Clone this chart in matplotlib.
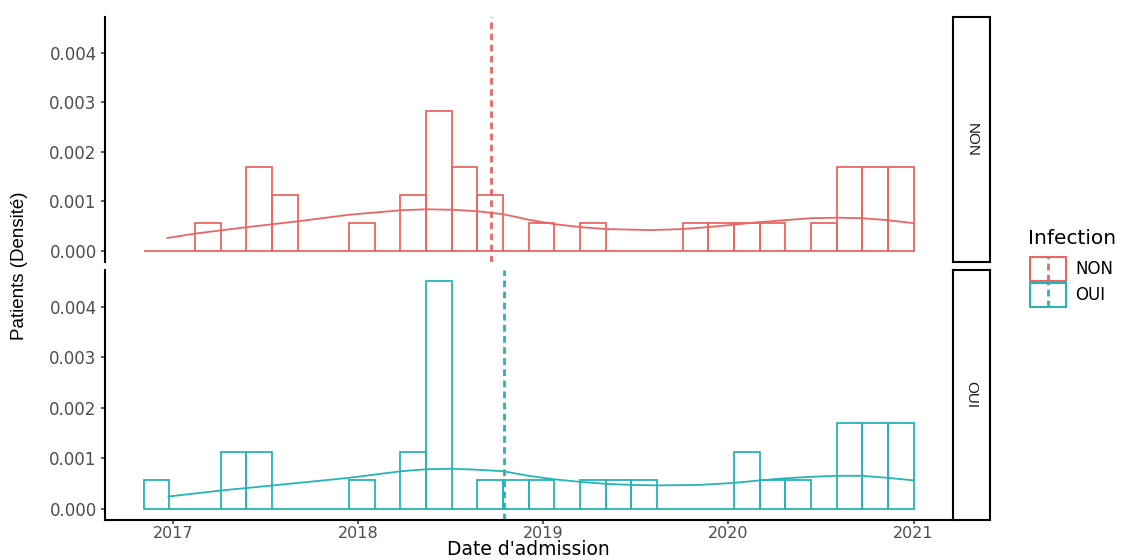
import numpy as np
import matplotlib
matplotlib.use("Agg")
import matplotlib.pyplot as plt
from matplotlib.patches import Rectangle

# histogram: 30 bins shared by both groups (years)
bin_start = 2016.838
bin_end = 2021.0
n_bins = 30

groups = ["NON", "OUI"]
colors = {"NON": "#E86763", "OUI": "#26B4B8"}

counts_non = [0, 0, 1, 0, 3, 2, 0, 0, 1, 0, 2, 5, 3, 2, 0,
              1, 0, 1, 0, 0, 0, 1, 1, 1, 1, 0, 1, 3, 3, 3]
counts_oui = [1, 0, 0, 2, 2, 0, 0, 0, 1, 0, 2, 8, 0, 1, 1,
              1, 0, 1, 1, 1, 0, 0, 0, 2, 1, 1, 0, 3, 3, 3]

# density curves (year, density)
dens_non_x = [2016.968, 2017.119, 2017.399, 2017.679, 2017.949, 2018.229, 2018.369,
              2018.509, 2018.644, 2018.784, 2018.919, 2019.059, 2019.199, 2019.340,
              2019.577, 2019.749, 2019.889, 2020.030, 2020.164, 2020.305, 2020.445,
              2020.585, 2020.725, 2020.860, 2021.000]
dens_non_y = [0.00026, 0.00035, 0.00048, 0.00060, 0.00073, 0.00082, 0.00084,
              0.00083, 0.00080, 0.00074, 0.00063, 0.00054, 0.00048, 0.00044,
              0.00042, 0.00044, 0.00048, 0.00053, 0.00058, 0.00062, 0.00066,
              0.00067, 0.00066, 0.00062, 0.00056]
dens_oui_x = [2016.973, 2017.259, 2017.399, 2017.539, 2017.949, 2018.229, 2018.369,
              2018.509, 2018.644, 2018.784, 2018.919, 2019.059, 2019.199, 2019.340,
              2019.480, 2019.615, 2019.846, 2020.030, 2020.170, 2020.305, 2020.445,
              2020.585, 2020.725, 2020.860, 2021.000]
dens_oui_y = [0.00024, 0.00036, 0.00041, 0.00046, 0.00061, 0.00074, 0.00078,
              0.00079, 0.00077, 0.00074, 0.00065, 0.00058, 0.00053, 0.00049,
              0.00047, 0.00046, 0.00047, 0.00051, 0.00056, 0.00060, 0.00063,
              0.00065, 0.00065, 0.00061, 0.00056]

mean_dates = {"NON": 2018.714, "OUI": 2018.784}

year_ticks = [2017, 2018, 2019, 2020, 2021]
y_ticks = [0.000, 0.001, 0.002, 0.003, 0.004]

counts = {"NON": counts_non, "OUI": counts_oui}
curves = {"NON": (dens_non_x, dens_non_y), "OUI": (dens_oui_x, dens_oui_y)}

H_FONT = "DejaVu Sans"
V_FONT = "Liberation Sans"

W, H = 1126, 560
fig = plt.figure(figsize=(W / 100, H / 100), dpi=100)
fig.patch.set_facecolor("white")

edges = np.linspace(bin_start, bin_end, n_bins + 1)
centers = (edges[:-1] + edges[1:]) / 2
bw = edges[1] - edges[0]
bw_days = bw * 365.25

panels = {"NON": (17, 262), "OUI": (270, 520)}
left_px, right_px = 105, 952
xlim = (bin_start - 0.05 * (bin_end - bin_start), bin_end + 0.05 * (bin_end - bin_start))
ylim = (-0.000225, 0.004725)

for g in groups:
    top, bot = panels[g]
    ax = fig.add_axes([left_px / W, 1 - bot / H, (right_px - left_px) / W, (bot - top) / H])
    c = colors[g]
    cnt = np.array(counts[g], dtype=float)
    heights = cnt / (cnt.sum() * bw_days)
    ax.bar(centers, heights, width=bw, fill=False, edgecolor=c, linewidth=1.3)
    ax.plot(curves[g][0], curves[g][1], color=c, linewidth=1.3)
    ax.axvline(mean_dates[g], color=c, linewidth=2.0, dashes=(2.4, 1.6))
    ax.set_xlim(*xlim)
    ax.set_ylim(*ylim)
    for s in ["top", "right"]:
        ax.spines[s].set_visible(False)
    ax.spines["left"].set_linewidth(1.5)
    ax.spines["bottom"].set_linewidth(1.5)
    ax.set_yticks(y_ticks)
    ax.set_yticklabels([f"{v:.3f}" for v in y_ticks], fontsize=12,
                       color="#4D4D4D", family=H_FONT)
    ax.tick_params(axis="both", length=3, width=1.1, color="#333333", pad=3)
    ax.tick_params(axis="x", pad=1.5)
    ax.set_xticks(year_ticks)
    if g == "NON":
        ax.spines["bottom"].set_visible(False)
        ax.tick_params(axis="x", bottom=False, labelbottom=False)
    else:
        ax.set_xticklabels([str(y) for y in year_ticks], fontsize=11.5,
                           color="#4D4D4D", family=H_FONT)

    # facet strip
    sax = fig.add_axes([953 / W, 1 - bot / H, 37 / W, (bot - top) / H])
    sax.set_xticks([])
    sax.set_yticks([])
    for s in sax.spines.values():
        s.set_linewidth(1.5)
        s.set_color("black")
    sax.text(0.5, 0.5, g, rotation=-90, ha="center", va="center",
             fontsize=11, color="#1A1A1A", family=V_FONT, transform=sax.transAxes)

fig.text(20 / W, 1 - 266 / H, "Patients (Densité)", rotation=90, ha="center",
         va="center", fontsize=13.5, family=V_FONT, color="black")
fig.text(528 / W, 0.8 / H, "Date d'admission", ha="center", va="bottom",
         fontsize=13.5, family=H_FONT, color="black")

# legend
fig.text(1028 / W, 1 - 239 / H, "Infection", ha="left", va="center",
         fontsize=14.5, family=H_FONT, color="black")
lax = fig.add_axes([1029 / W, 1 - 308 / H, 38 / W, 52 / H])
lax.set_xlim(0, 1)
lax.set_ylim(0, 2)
lax.axis("off")
for i, g in enumerate(groups):
    yb = 1 - i
    lax.add_patch(Rectangle((0.03, yb + 0.03), 0.94, 0.94, fill=False,
                            edgecolor=colors[g], linewidth=1.5))
    lax.plot([0.5, 0.5], [yb + 0.03, yb + 0.97], color=colors[g],
             linewidth=2.0, dashes=(2.4, 1.6))
    fig.text(1075 / W, 1 - (269 + 26 * i) / H, g, ha="left", va="center",
             fontsize=12, family=H_FONT, color="black")

fig.savefig("out.png", dpi=100, facecolor="white")
